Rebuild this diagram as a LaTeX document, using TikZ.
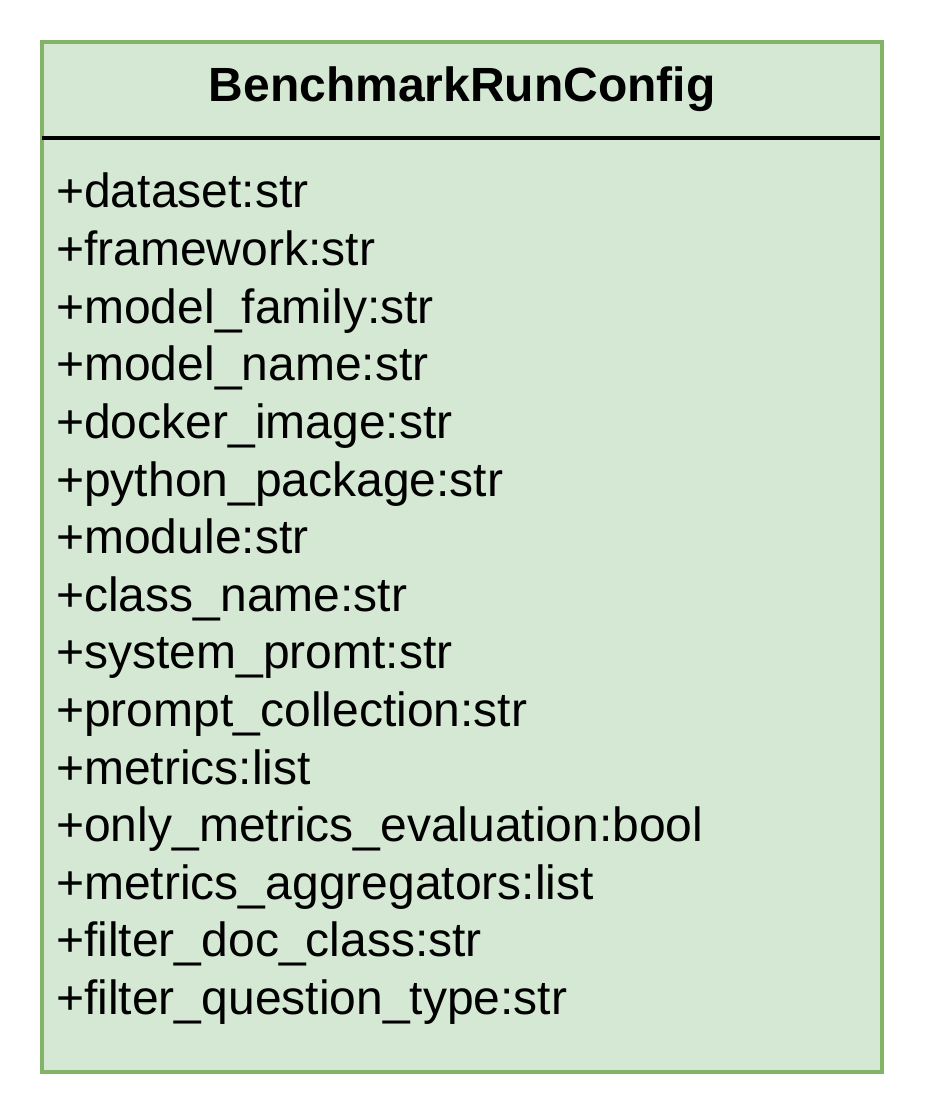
\documentclass[tikz,border=0pt]{standalone}
\usepackage{fontspec}
\setmainfont{Liberation Sans}
\usetikzlibrary{positioning}
\definecolor{umlfill}{HTML}{D5E8D4}
\definecolor{umlline}{HTML}{82B366}

\begin{document}
\begin{tikzpicture}[x=0.75pt,y=-0.75pt]
    \tikzstyle{classbox}=[draw=umlline,fill=umlfill,line width=3pt,inner sep=0pt,outer sep=0pt,minimum width=630pt,minimum height=772.5pt]
    \tikzstyle{classname}=[anchor=base,inner sep=0pt,font=\fontsize{36}{43.2}\selectfont\bfseries]
    \tikzstyle{attr}=[anchor=base west,inner sep=0pt,font=\fontsize{36}{43.2}\selectfont]
    \useasboundingbox (0,0) rectangle (924,1116);
    \node[classbox] (cls) at (462,557) {};
    \node[classname] (name) at (462,102) {BenchmarkRunConfig};
    % separator under the class name
    \coordinate (sep_l) at (42,138);
    \coordinate (sep_r) at (880,138);
    \draw[line width=3pt] (sep_l) -- (sep_r);
    \foreach \attrname [count=\i from 0] in {dataset:str,framework:str,model\_family:str,model\_name:str,docker\_image:str,python\_package:str,module:str,class\_name:str,system\_promt:str,prompt\_collection:str,metrics:list,only\_metrics\_evaluation:bool,metrics\_aggregators:list,filter\_doc\_class:str,filter\_question\_type:str}
        \node[attr] (attr_\i) at (56,{208+57.6*\i}) {+\attrname};
  \end{tikzpicture}
\end{document}
